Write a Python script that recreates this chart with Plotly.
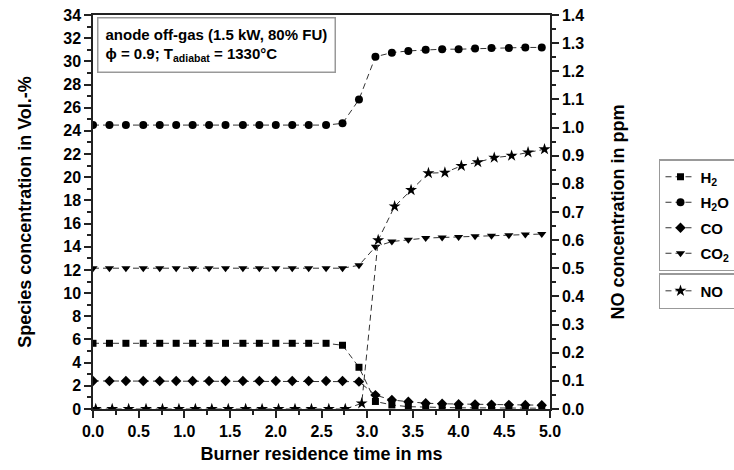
import plotly.graph_objects as go

# Burner residence time (ms) for the species series
time_ms = [0.0, 0.18, 0.36, 0.55, 0.73, 0.91, 1.09, 1.27, 1.45, 1.64, 1.82, 2.0, 2.18, 2.36,
           2.55, 2.73, 2.91, 3.09, 3.27, 3.45, 3.64, 3.82, 4.0, 4.18, 4.36, 4.55, 4.73, 4.91]
# NO samples are slightly shifted in time
time_no = [0.03, 0.21, 0.39, 0.58, 0.76, 0.94, 1.12, 1.30, 1.48, 1.67, 1.85, 2.03, 2.21, 2.39,
           2.58, 2.76, 2.94, 3.12, 3.30, 3.48, 3.67, 3.85, 4.03, 4.21, 4.39, 4.58, 4.76, 4.94]

h2 = [5.67, 5.67, 5.67, 5.67, 5.67, 5.67, 5.67, 5.67, 5.67, 5.67, 5.67, 5.67, 5.67, 5.67,
      5.67, 5.5, 3.6, 0.65, 0.35, 0.2, 0.15, 0.12, 0.1, 0.1, 0.08, 0.08, 0.07, 0.07]
h2o = [24.5, 24.5, 24.5, 24.5, 24.5, 24.5, 24.5, 24.5, 24.5, 24.5, 24.5, 24.5, 24.5, 24.5,
       24.5, 24.65, 26.7, 30.4, 30.75, 30.9, 31.0, 31.05, 31.05, 31.1, 31.15, 31.15, 31.2, 31.2]
co = [2.42, 2.42, 2.42, 2.42, 2.42, 2.42, 2.42, 2.42, 2.42, 2.42, 2.42, 2.42, 2.42, 2.42,
      2.42, 2.42, 2.36, 1.2, 0.78, 0.63, 0.5, 0.45, 0.42, 0.4, 0.38, 0.36, 0.35, 0.33]
co2 = [12.15, 12.15, 12.15, 12.15, 12.15, 12.15, 12.15, 12.15, 12.15, 12.15, 12.15, 12.15, 12.15, 12.15,
       12.15, 12.15, 12.4, 14.0, 14.45, 14.6, 14.75, 14.8, 14.85, 14.9, 14.95, 15.0, 15.05, 15.1]
no_ppm = [0.0, 0.0, 0.0, 0.0, 0.0, 0.0, 0.0, 0.0, 0.0, 0.0, 0.0, 0.0, 0.0, 0.0,
          0.0, 0.0, 0.02, 0.60, 0.72, 0.778, 0.838, 0.84, 0.864, 0.877, 0.893, 0.90, 0.912, 0.923]

species_names = ["H<sub>2</sub>", "H<sub>2</sub>O", "CO", "CO<sub>2</sub>"]
species_values = [h2, h2o, co, co2]
species_symbols = ["square", "circle", "diamond", "triangle-down"]
species_sizes = [7, 8, 8, 8]

FONT = "Liberation Sans, Arial, sans-serif"
DASH = "6px,4px"
LINE_COLOR = "#333333"
PAD = "\u00a0" * 8  # widens the legend box so it runs past the right edge, as in the reference

fig = go.Figure()
for i, (name, vals, sym, sz) in enumerate(zip(species_names, species_values, species_symbols, species_sizes)):
    fig.add_trace(go.Scatter(
        x=time_ms, y=vals, name=name + PAD, mode="lines+markers",
        line=dict(color=LINE_COLOR, width=1, dash=DASH),
        marker=dict(symbol=sym, size=sz, color="black"),
        legend="legend", legendgroup=f"g{i}",
    ))

fig.add_trace(go.Scatter(
    x=time_no, y=no_ppm, name="NO" + PAD, mode="lines+markers", yaxis="y2",
    line=dict(color=LINE_COLOR, width=1, dash=DASH),
    marker=dict(symbol="star", size=9, color="black"),
    legend="legend2",
))

axis_common = dict(
    showgrid=False, zeroline=False, showline=True, linecolor="#222222", linewidth=1.5,
    ticks="outside", ticklen=7, tickwidth=1.5, tickcolor="#222222",
    tickfont=dict(family=FONT, size=16, color="black", weight="bold"),
)

fig.update_layout(
    width=734, height=470,
    margin=dict(l=93, r=184, t=15, b=61, autoexpand=False),
    paper_bgcolor="white", plot_bgcolor="white",
    font=dict(family=FONT, color="black"),
    xaxis=dict(
        **axis_common, range=[0, 5], dtick=0.5, tick0=0, tickformat=".1f", mirror=True,
        minor=dict(dtick=0.25, ticklen=4, tickwidth=1.5, tickcolor="#222222", ticks="outside"),
        title=dict(text="Burner residence time in ms", standoff=8,
                   font=dict(family=FONT, size=18, color="black", weight="bold")),
    ),
    yaxis=dict(
        **axis_common, range=[0, 34], dtick=2, tick0=0,
        minor=dict(dtick=1, ticklen=4, tickwidth=1.5, tickcolor="#222222", ticks="outside"),
        title=dict(text="Species concentration in Vol.-%", standoff=27,
                   font=dict(family=FONT, size=18, color="black", weight="bold")),
    ),
    yaxis2=dict(
        **axis_common, range=[0, 1.4], dtick=0.1, tick0=0, tickformat=".1f",
        overlaying="y", side="right",
        minor=dict(dtick=0.05, ticklen=4, tickwidth=1.5, tickcolor="#222222", ticks="outside"),
        title=dict(text="NO concentration in ppm", standoff=28,
                   font=dict(family=FONT, size=18, color="black", weight="bold")),
    ),
    legend=dict(
        x=1.2385, y=0.6345, xanchor="left", yanchor="top",
        bordercolor="#999999", borderwidth=1.5, bgcolor="white",
        font=dict(family=FONT, size=15, color="black", weight="bold"),
        tracegroupgap=3,
    ),
    legend2=dict(
        x=1.2385, y=0.345, xanchor="left", yanchor="top",
        bordercolor="#999999", borderwidth=1.5, bgcolor="white",
        font=dict(family=FONT, size=15, color="black", weight="bold"),
    ),
    showlegend=True,
)

fig.add_annotation(
    xref="paper", yref="paper", x=0.009, y=0.995, xanchor="left", yanchor="top",
    text="anode off-gas (1.5 kW, 80% FU)<br>ϕ = 0.9; T<sub>adiabat</sub> = 1330°C",
    showarrow=False, align="left",
    font=dict(family=FONT, size=15, color="black", weight="bold"),
    bordercolor="#999999", borderwidth=1.5, borderpad=7, bgcolor="white",
)

fig.write_html("out.html", config={"displayModeBar": False},
               post_script="document.body.style.margin='0';")
